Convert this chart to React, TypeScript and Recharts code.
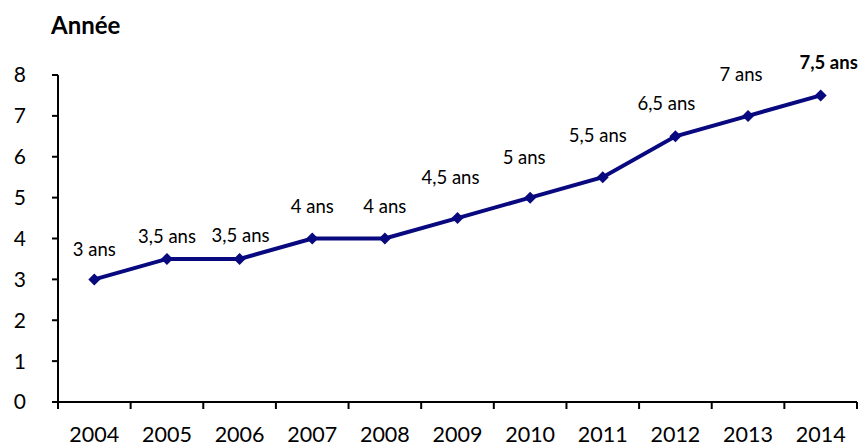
import React from 'react';
import { LineChart, Line, XAxis, YAxis, LabelList } from 'recharts';

const years = ['2004', '2005', '2006', '2007', '2008', '2009', '2010', '2011', '2012', '2013', '2014'];
const durations = [3, 3.5, 3.5, 4, 4, 4.5, 5, 5.5, 6.5, 7, 7.5];
const labels = ['3 ans', '3,5 ans', '3,5 ans', '4 ans', '4 ans', '4,5 ans', '5 ans', '5,5 ans', '6,5 ans', '7 ans', '7,5 ans'];
const yTicks = [0, 1, 2, 3, 4, 5, 6, 7, 8];
const title = 'Année';

// label nudges (style only)
const labelDx = [0, 0, 1, 0, 0, -7, -6, -5, -9, -7, 8];
const labelDy = [-30, -23, -24, -33, -33, -41, -41, -42, -33, -42, -33];

const data = years.map((y, i) => ({ year: y, value: durations[i], label: labels[i] }));

const FONT = 'Lato, "Open Sans", sans-serif';
const NAVY = '#08087f';

const XTick = (props: any) => {
  const { x, y, payload, index, visibleTicksCount } = props;
  const off = payload.offset || 0;
  const isLast = index === visibleTicksCount - 1;
  return (
    <g>
      <line x1={x - off} y1={y - 2} x2={x - off} y2={y + 5} stroke="#000" strokeWidth={2} />
      {isLast && <line x1={x + off} y1={y - 2} x2={x + off} y2={y + 5} stroke="#000" strokeWidth={2} />}
      <text x={x} y={y + 38} textAnchor="middle" fontSize={21.5} fontFamily={FONT} fill="#000">
        {payload.value}
      </text>
    </g>
  );
};

const Diamond = (props: any) => {
  const { cx, cy } = props;
  if (cx == null || cy == null) return null;
  const r = 6;
  return <polygon points={`${cx},${cy - r} ${cx + r},${cy} ${cx},${cy + r} ${cx - r},${cy}`} fill={NAVY} />;
};

const PointLabel = (props: any) => {
  const { x, y, index, value } = props;
  const last = index === labels.length - 1;
  return (
    <text
      x={x + labelDx[index]}
      y={y + labelDy[index]}
      textAnchor="middle"
      dominantBaseline="central"
      fontSize={18.5}
      fontWeight={last ? 700 : 400}
      fontFamily={FONT}
      fill="#000"
    >
      {value}
    </text>
  );
};

export default function App() {
  return (
    <div style={{ position: 'absolute', left: 0, top: 0, width: 865, height: 447, background: '#fff' }}>
      <div
        style={{
          position: 'absolute',
          left: 51,
          top: 13,
          fontFamily: FONT,
          fontWeight: 700,
          fontSize: 24,
          lineHeight: '24px',
          color: '#000',
        }}
      >
        {title}
      </div>
      <LineChart width={865} height={447} data={data} margin={{ top: 75, right: 8, bottom: 0, left: 0 }}>
        <XAxis
          dataKey="year"
          scale="band"
          height={45}
          axisLine={{ stroke: '#000', strokeWidth: 2 }}
          tickLine={false}
          tick={<XTick />}
          interval={0}
          tickSize={0}
        />
        <YAxis
          width={58}
          domain={[0, 8]}
          ticks={yTicks}
          interval={0}
          axisLine={{ stroke: '#000', strokeWidth: 2 }}
          tickLine={{ stroke: '#000', strokeWidth: 2 }}
          tickSize={6}
          tickMargin={26}
          tick={{ fontSize: 21, fontFamily: FONT, fill: '#000' }}
        />
        <Line
          type="linear"
          dataKey="value"
          stroke={NAVY}
          strokeWidth={4}
          dot={<Diamond />}
          activeDot={false}
          isAnimationActive={false}
        >
          <LabelList dataKey="label" content={<PointLabel />} />
        </Line>
      </LineChart>
    </div>
  );
}
